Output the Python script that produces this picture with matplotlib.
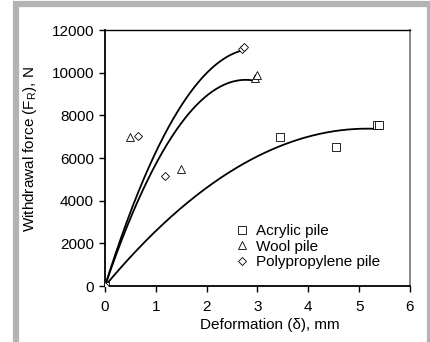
import numpy as np
import matplotlib
matplotlib.use("Agg")
import matplotlib.pyplot as plt
from matplotlib.patches import Rectangle

plt.rcParams['font.family'] = ['Liberation Sans', 'DejaVu Sans']
plt.rcParams['mathtext.fontset'] = 'custom'
plt.rcParams['mathtext.rm'] = 'Liberation Sans'

# Data
acrylic_x = [0, 3.45, 4.55, 5.35, 5.4]
acrylic_y = [0, 7000, 6500, 7550, 7550]
wool_x = [0, 0.5, 1.5, 2.95, 3.0]
wool_y = [0, 7000, 5500, 9750, 9900]
poly_x = [0, 0.65, 1.18, 2.7, 2.73]
poly_y = [0, 7030, 5170, 11100, 11220]
labels = ["Acrylic pile", "Wool pile", "Polypropylene pile"]
markers = ["s", "^", "D"]
xticks = [0, 1, 2, 3, 4, 5, 6]
yticks = [0, 2000, 4000, 6000, 8000, 10000, 12000]

W, H = 431, 342
fig = plt.figure(figsize=(W / 100, H / 100), dpi=100)

# gray frame
fig.patches.append(Rectangle((16 / W, -0.05), (430 - 16) / W, (342 - 4) / H + 0.05,
                             transform=fig.transFigure, fill=False,
                             edgecolor='#b3b3b3', linewidth=4.5))

ax = fig.add_axes([105 / W, (342 - 286) / H, 305 / W, 256 / H])

def trend(x, y):
    x = np.asarray(x, float)
    y = np.asarray(y, float)
    A = np.column_stack([x, x ** 2])
    coef, *_ = np.linalg.lstsq(A, y, rcond=None)
    xs = np.linspace(0, x.max(), 200)
    return xs, coef[0] * xs + coef[1] * xs ** 2

series = [(acrylic_x, acrylic_y), (wool_x, wool_y), (poly_x, poly_y)]
msizes = [6, 6, 4.5]
for (x, y), m, lab, ms in zip(series, markers, labels, msizes):
    xs, ys = trend(x, y)
    ax.plot(xs, ys, color='black', lw=1.3, zorder=2)
    ax.plot(x, y, linestyle='none', marker=m, markersize=ms, markerfacecolor='white',
            markeredgecolor='black', markeredgewidth=0.6, label=lab, zorder=3)

fs = 11
ax.set_xlim(0, 6)
ax.set_ylim(0, 12000)
ax.set_xticks(xticks)
ax.set_yticks(yticks)
ax.tick_params(direction='out', length=4, width=1, labelsize=fs, colors='black')
ax.tick_params(axis='y', pad=4)
ax.tick_params(axis='x', pad=6)
ax.spines['left'].set_linewidth(1.3)
ax.spines['bottom'].set_linewidth(1.3)
ax.spines['top'].set_linewidth(1.0)
ax.spines['right'].set_color('#808080')
ax.spines['right'].set_linewidth(1.3)

ax.set_xlabel("Deformation (δ), mm", fontsize=fs)
ax.set_ylabel(r"Withdrawal force (F$_\mathregular{R}$), N", fontsize=fs)
ax.xaxis.set_label_coords(0.541, -0.125)
ax.yaxis.set_label_coords(-0.215, 0.535)

leg = ax.legend(loc='upper left', bbox_to_anchor=(0.41, 0.265), frameon=False,
                fontsize=fs, handlelength=0.8, handletextpad=0.5,
                labelspacing=0.1, borderaxespad=0)

fig.savefig("out.png", dpi=100)
